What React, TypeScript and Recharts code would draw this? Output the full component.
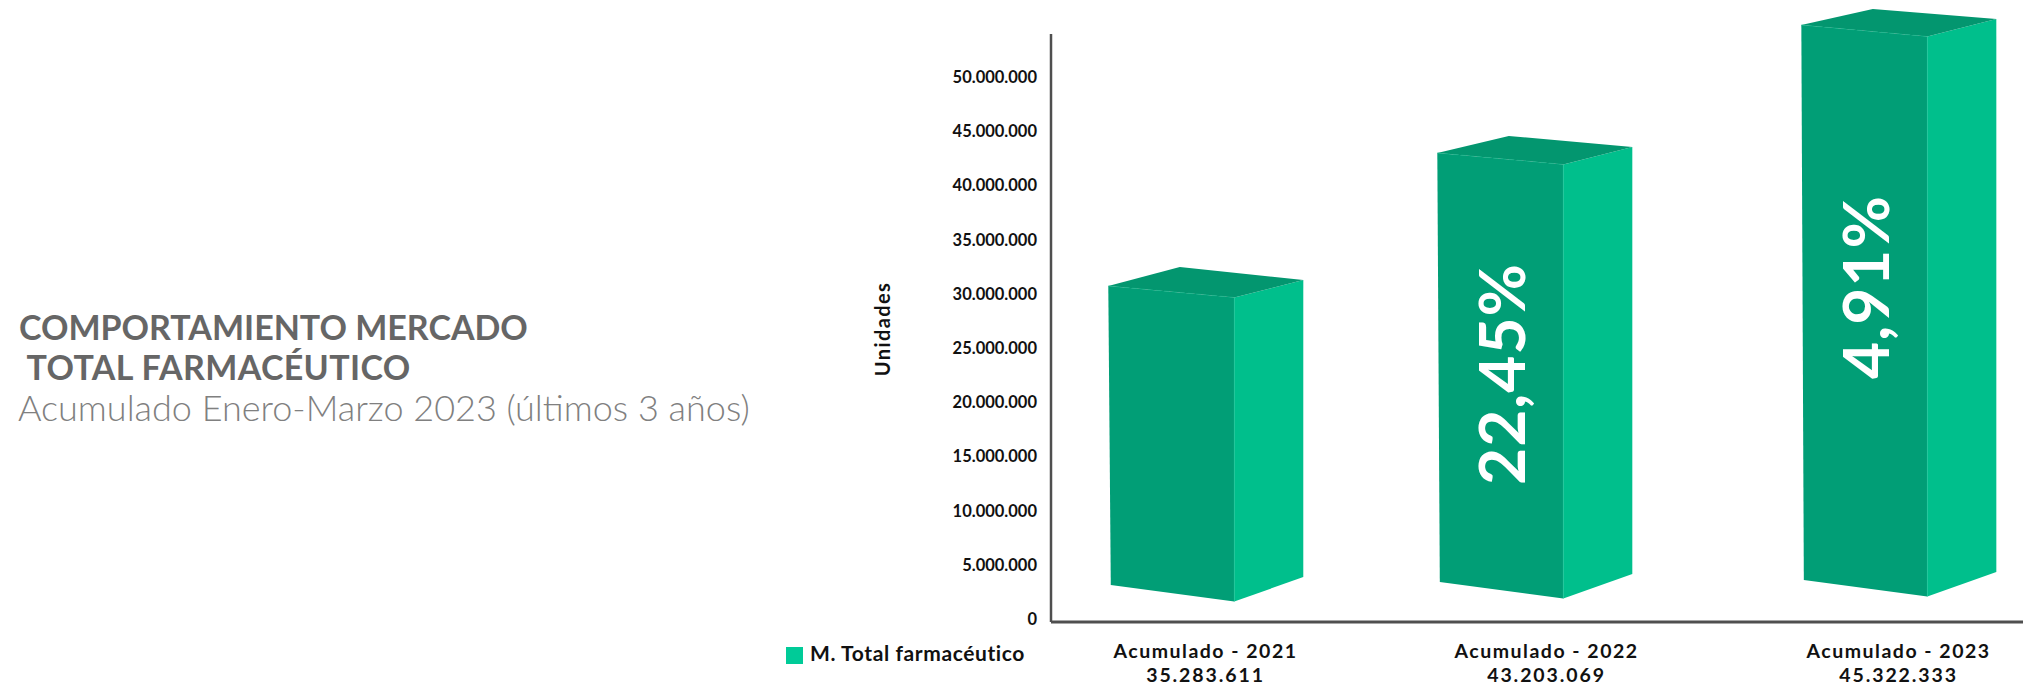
import React from "react";
import { BarChart, Bar, XAxis, YAxis, Legend, ReferenceLine } from "recharts";

const anios = [2021, 2022, 2023];
const categorias = ["Acumulado - 2021", "Acumulado - 2022", "Acumulado - 2023"];
const totales = ["35.283.611", "43.203.069", "45.322.333"];
const alturaCara = [31000000, 43270000, 55070000];
const baseCara = [3410000, 3690000, 3870000];
const variacion = ["", "22,45%", "4,91%"];
const marcasY = [0, 5000000, 10000000, 15000000, 20000000, 25000000, 30000000, 35000000, 40000000, 45000000, 50000000];
const topeEjeY = 54240000;
const maxDominio = 56640000;

const data = anios.map((anio, i) => ({
  anio,
  rango: [baseCara[i], alturaCara[i]],
  variacion: variacion[i],
}));

const FONT = "Lato, sans-serif";
const C_FRONT = "#019E76";
const C_SIDE = "#00BF8C";
const C_TOP = "#03966F";
const C_LEG = "#00CB98";
const C_AXIS = "#4f4f4f";
const PLOT_LEFT = 1051;
const FRONT_W = 126;
const barNudge = [0, -17.5, 0];
const labelNudge = [0, -5.5, 0];
const apexRise = [19, 17, 16];

const fmt = (v: number) => v === 0 ? "0" : v.toString().replace(/\B(?=(\d{3})+(?!\d))/g, ".");

function Prisma(props: any) {
  const { x, y, height, width, index, payload } = props;
  const L = x + barNudge[index];
  const FR = L + FRONT_W;
  const R = L + width;
  const A = L + 71.5;
  const b = y + height;
  const front = `${L},${y} ${FR},${y + 11.5} ${FR},${b + 16.5} ${L + 2.5},${b}`;
  const side = `${FR},${y + 11.5} ${R},${y - 6} ${R},${b - 8} ${FR},${b + 16.5}`;
  const top = `${L},${y} ${A},${y - apexRise[index]} ${R},${y - 6} ${FR},${y + 11.5}`;
  const cx = L + 63;
  const cy = y + (index === 1 ? 221 : 262);
  return (
    <g>
      <polygon points={front} fill={C_FRONT} />
      <polygon points={side} fill={C_SIDE} />
      <polygon points={top} fill={C_TOP} />
      <line x1={FR} y1={y + 11.5} x2={FR} y2={b + 16.5} stroke="#12C596" strokeWidth={0.6} />
      <line x1={L} y1={y} x2={FR} y2={y + 11.5} stroke="#12B88C" strokeWidth={0.6} strokeDasharray="5 3" />
      {payload.variacion ? (
        <text x={cx} y={cy} transform={`rotate(-90 ${cx} ${cy})`} textAnchor="middle" dominantBaseline="central"
          fill="#fff" fontFamily={FONT} fontWeight={700} fontSize={64} letterSpacing={1}>{payload.variacion}</text>
      ) : null}
    </g>
  );
}

function TickY(props: any) {
  const { y, payload } = props;
  return (
    <text x={PLOT_LEFT - 14} y={y - 3} textAnchor="end" dominantBaseline="central"
      fontFamily={FONT} fontWeight={700} fontSize={16.5} fill="#111">{fmt(payload.value)}</text>
  );
}

function TickX(props: any) {
  const { x, payload } = props;
  const i = anios.indexOf(payload.value);
  const cx = x + labelNudge[i];
  return (
    <g fontFamily={FONT} fontWeight={700} fill="#111" textAnchor="middle" fontSize={19.5}>
      <text x={cx} y={658} letterSpacing={1.5}>{categorias[i]}</text>
      <text x={cx} y={681.5} letterSpacing={1.9}>{totales[i]}</text>
    </g>
  );
}

function EjeVertical(props: any) {
  const { y1, y2 } = props;
  return <line x1={PLOT_LEFT} x2={PLOT_LEFT} y1={y1} y2={y2} stroke={C_AXIS} strokeWidth={2.5} />;
}

const texto: React.CSSProperties = { position: "absolute", whiteSpace: "pre", fontFamily: FONT, lineHeight: 1 };

export default function App() {
  return (
    <div style={{ position: "absolute", left: 0, top: 0, width: 2023, height: 685, background: "#fff", overflow: "hidden" }}>
      <div style={{ ...texto, left: 19, top: 310, fontSize: 34, fontWeight: 700, color: "#666" }}>COMPORTAMIENTO MERCADO</div>
      <div style={{ ...texto, left: 19, top: 350, fontSize: 34, fontWeight: 700, color: "#666", letterSpacing: 0.35 }}> TOTAL FARMACÉUTICO</div>
      <div style={{ ...texto, left: 18, top: 389, fontSize: 36, fontWeight: 300, color: "#808080" }}>Acumulado Enero-Marzo 2023 (últimos 3 años)</div>
      <BarChart width={2023} height={685} data={data} margin={{ top: 8, right: 0, bottom: 23, left: 900 }}>
        <XAxis dataKey="anio" type="number" domain={[2020.554, 2023.359]} ticks={anios} axisLine={{ stroke: C_AXIS, strokeWidth: 3 }} tickLine={false} tick={<TickX />} height={40} allowDecimals />
        <YAxis type="number" width={151} domain={[0, maxDominio]} ticks={marcasY} axisLine={false} tickLine={false} tick={<TickY />} interval={0}
          label={{ value: "Unidades", angle: -90, position: "left", offset: 0, dx: -17, dy: 14, style: { fontFamily: FONT, fontWeight: 700, fontSize: 20, letterSpacing: 1.4, fill: "#111", textAnchor: "middle" } }} />
        <ReferenceLine segment={[{ x: 2021, y: 0 }, { x: 2021, y: topeEjeY }]} ifOverflow="visible" shape={<EjeVertical />} />
        <Legend layout="vertical" align="center" verticalAlign="middle" iconType="square" iconSize={17}
          wrapperStyle={{ position: "absolute", left: 786, top: 640, width: 280, bottom: "auto", right: "auto", fontFamily: FONT, fontWeight: 700, fontSize: 21 }}
          formatter={(v: string) => <span style={{ color: "#111", letterSpacing: 0.6, marginLeft: 3 }}>{v}</span>} />
        <Bar dataKey="rango" name="M. Total farmacéutico" fill={C_LEG} barSize={195} isAnimationActive={false} shape={<Prisma />} />
      </BarChart>
    </div>
  );
}
